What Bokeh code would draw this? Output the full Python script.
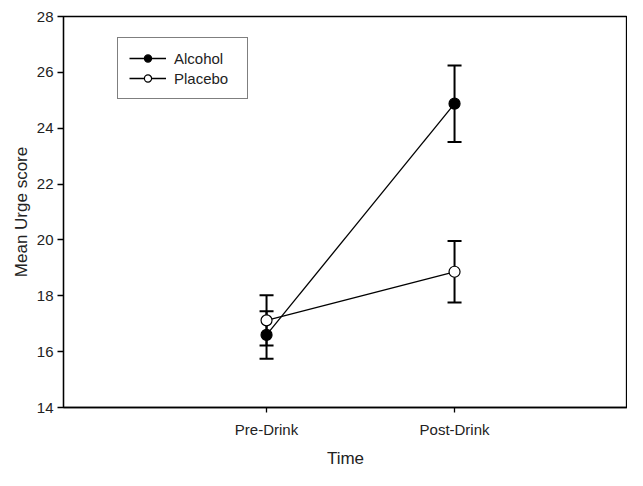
from bokeh.plotting import figure
from bokeh.models import ColumnDataSource, Whisker, TeeHead, FixedTicker, Legend, LegendItem, Range1d
from bokeh.embed import file_html
from bokeh.resources import INLINE

categories = ["Pre-Drink", "Post-Drink"]
x_pos = [1, 2]
alcohol = [16.6, 24.88]
alcohol_err = [0.85, 1.37]
placebo = [17.12, 18.86]
placebo_err = [0.9, 1.1]
y_ticks = [14, 16, 18, 20, 22, 24, 26, 28]

FONT = "Liberation Sans"

p = figure(width=627, height=470, output_backend="svg", toolbar_location=None,
           x_range=Range1d(-0.08, 2.92), y_range=Range1d(14, 28),
           min_border_left=63, min_border_right=0, min_border_top=16, min_border_bottom=56)
p.xgrid.visible = False
p.ygrid.visible = False
p.outline_line_color = "black"
p.outline_line_width = 1.3

def src(vals, errs):
    return ColumnDataSource(dict(x=x_pos, y=vals,
                                 lo=[v - e for v, e in zip(vals, errs)],
                                 hi=[v + e for v, e in zip(vals, errs)]))

s_alc = src(alcohol, alcohol_err)
s_pla = src(placebo, placebo_err)

for s in (s_pla, s_alc):
    w = Whisker(source=s, base="x", upper="hi", lower="lo", dimension="height",
                line_color="black", line_width=2,
                upper_head=TeeHead(size=14, line_color="black", line_width=2),
                lower_head=TeeHead(size=14, line_color="black", line_width=2))
    p.add_layout(w)

l_pla = p.line("x", "y", source=s_pla, line_color="black", line_width=1.3)
l_alc = p.line("x", "y", source=s_alc, line_color="black", line_width=1.3)
m_alc = p.scatter("x", "y", source=s_alc, size=11, marker="circle",
                  fill_color="black", line_color="black", line_width=1.2)
m_pla = p.scatter("x", "y", source=s_pla, size=11, marker="circle",
                  fill_color="white", line_color="black", line_width=1.2)

legend = Legend(items=[LegendItem(label="Alcohol", renderers=[l_alc, m_alc]),
                       LegendItem(label="Placebo", renderers=[l_pla, m_pla])],
                location=(54, 308), orientation="vertical",
                border_line_color="black", border_line_width=1.3,
                background_fill_alpha=1.0,
                label_text_font=FONT, label_text_font_size="15px",
                label_text_color="#222222",
                glyph_width=37, glyph_height=18, label_height=18,
                label_standoff=8, padding=11, spacing=2, margin=0,
                label_width=62)
p.add_layout(legend, "center")

p.xaxis.ticker = FixedTicker(ticks=x_pos)
p.xaxis.major_label_overrides = {x: c for x, c in zip(x_pos, categories)}
p.yaxis.ticker = FixedTicker(ticks=y_ticks)
p.xaxis.minor_tick_line_color = None
p.yaxis.minor_tick_line_color = None
p.xaxis.major_tick_in = 0
p.xaxis.major_tick_out = 5
p.yaxis.major_tick_in = 0
p.yaxis.major_tick_out = 6
for ax in (p.xaxis, p.yaxis):
    ax.axis_line_color = "black"
    ax.axis_line_width = 1.3
    ax.major_tick_line_color = "black"
    ax.major_tick_line_width = 1.3
    ax.major_label_text_font = FONT
    ax.major_label_text_font_size = "15px"
    ax.major_label_text_color = "#222222"
    ax.axis_label_text_font = FONT
    ax.axis_label_text_font_size = "17px"
    ax.axis_label_text_font_style = "normal"
    ax.axis_label_text_color = "#222222"
p.xaxis.axis_label = "Time"
p.yaxis.axis_label = "Mean Urge score"
p.xaxis.major_label_standoff = 8
p.xaxis.axis_label_standoff = 8
p.yaxis.major_label_standoff = 4
p.yaxis.axis_label_standoff = 3

open("out.html", "w").write(file_html(p, INLINE))
